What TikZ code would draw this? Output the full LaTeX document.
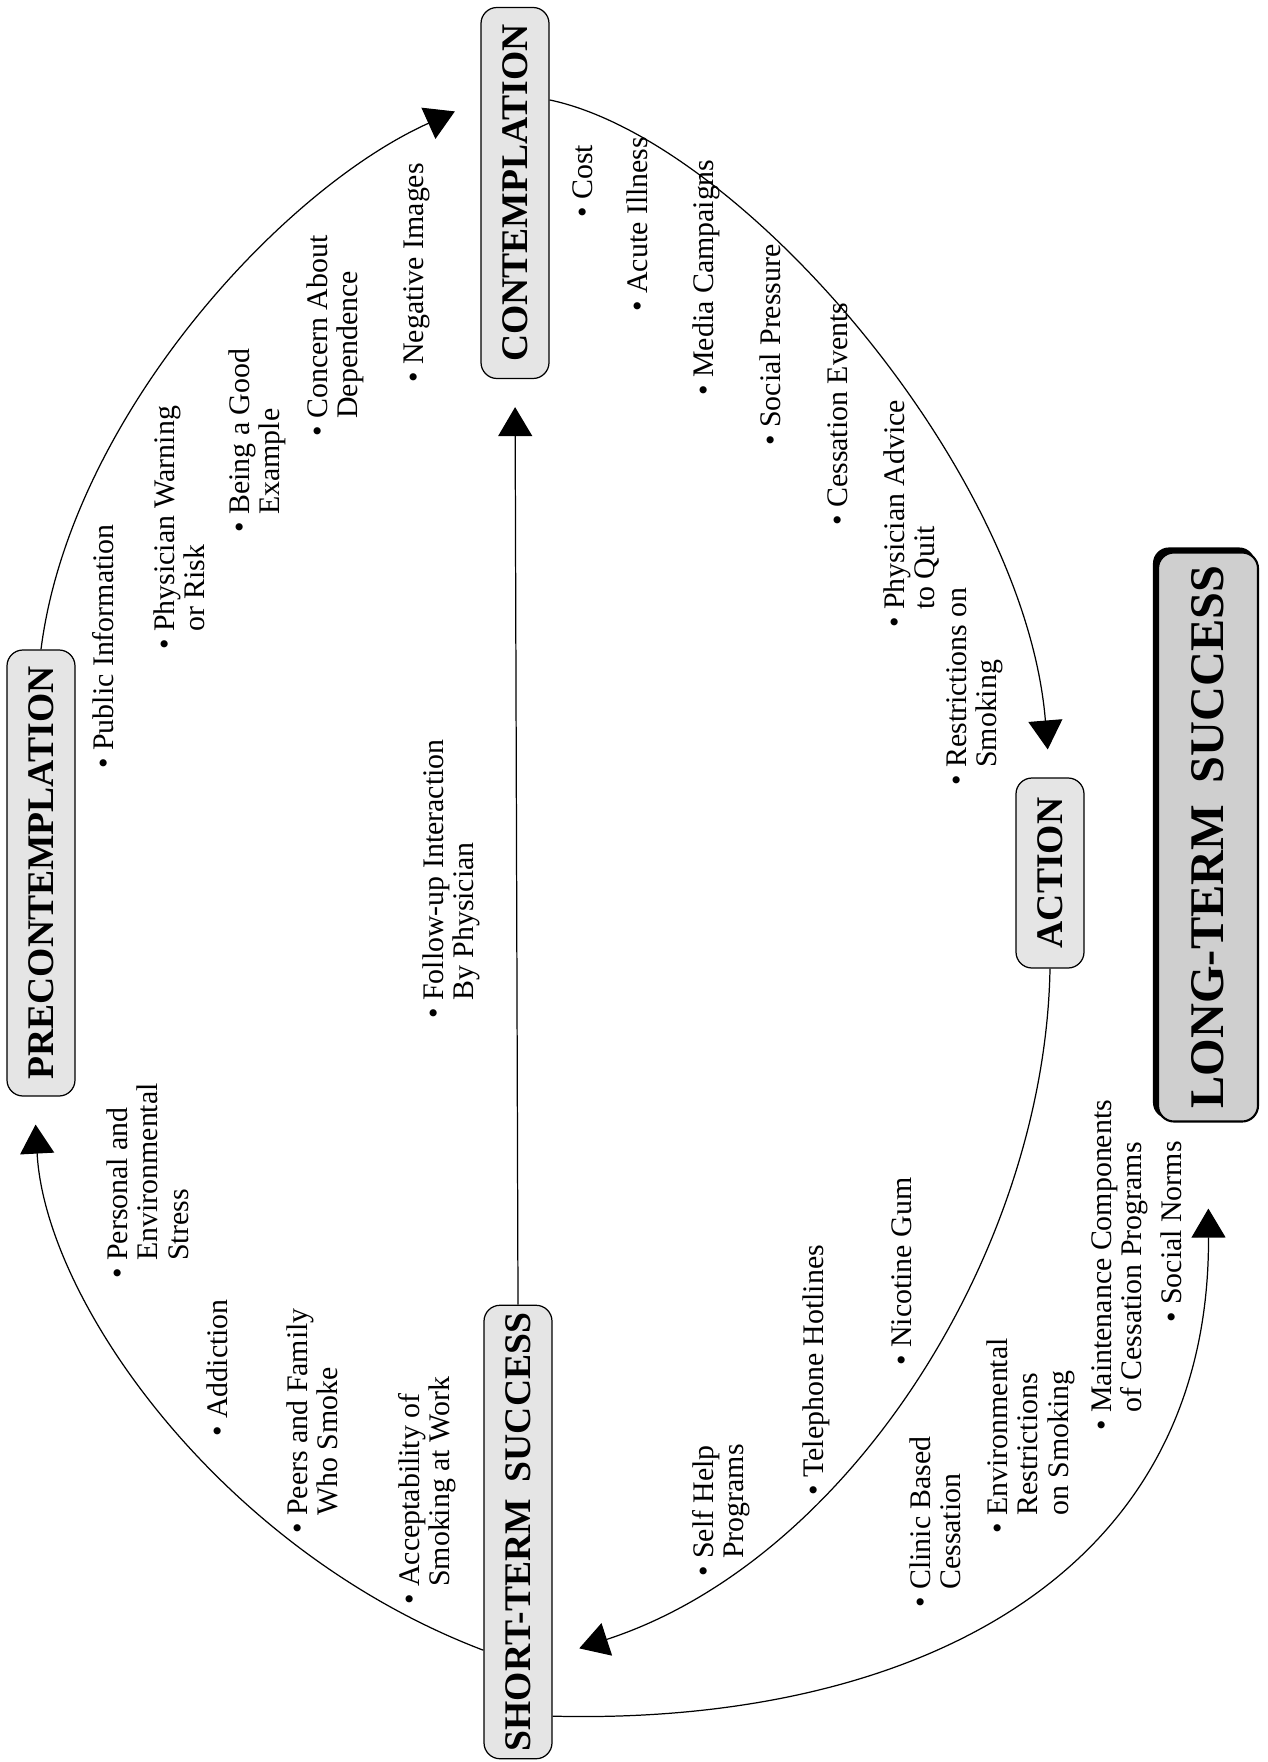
\documentclass[tikz,border=0pt]{standalone}
\usepackage{fontspec}
\setmainfont{Liberation Serif}
\usetikzlibrary{arrows.meta,calc,backgrounds}

\newcommand{\itm}[1]{\textbullet\ \begin{tabular}[t]{@{}l@{}}#1\end{tabular}}

\tikzset{
  stage/.style={rotate=90, draw, line width=0.7pt, rounded corners=3.2mm, fill=gray!20,
    minimum height=13.6mm, inner xsep=1.5mm, font=\fontsize{21.4}{24}\selectfont\bfseries},
  item/.style={rotate=90, anchor=base west, inner sep=0pt, font=\fontsize{17}{17.6}\selectfont},
  arr/.style={line width=0.7pt, -{Triangle[length=5.8mm,width=6.8mm]}, shorten >=5.6mm},
}

\begin{document}
\begin{tikzpicture}[x=0.2mm, y=-0.2mm]
    \useasboundingbox (0,0) rectangle (1268,1762);

    % stages
    \node[stage, minimum width=89.2mm] (pre) at (41,873) {PRECONTEMPLATION};
    \node[stage, minimum width=74.2mm] (con) at (515,193) {CONTEMPLATION};
    \node[stage, minimum width=38mm] (act) at (1050,873) {ACTION};
    \node[stage, minimum width=90.6mm] (sts) at (518,1532) {SHORT-TERM\hspace{0.2em} SUCCESS};
    \node[stage, minimum width=113.8mm, minimum height=20mm, fill=gray!38, line width=1.2pt,
          font=\fontsize{27.5}{30}\selectfont\bfseries] (lts) at (1208,837) {LONG-TERM\hspace{0.2em} SUCCESS};
    \begin{scope}[on background layer]
        \fill[rounded corners=3.2mm] ($(lts.north east)+(-4,-4)$) rectangle ($(lts.south west)+(-4,-4)$);
    \end{scope}

    % precontemplation -> contemplation
    \foreach \px/\py/\txt [count=\i] in {113/769/{Public Information},
        174/650/{Physician Warning\\or Risk}, 249/533/{Being a Good\\Example},
        327/437/{Concern About\\Dependence}, 423/383/{Negative Images}}
        \node[item] (pc\i) at (\px,\py) {\itm{\txt}};

    % contemplation -> action
    \foreach \px/\py/\txt [count=\i] in {592/218/{Cost}, 647/312/{Acute Illness},
        713/396/{Media Campaigns}, 780/446/{Social Pressure}, 847/526/{Cessation Events},
        904/628/{Physician Advice\\to Quit}, 966/786/{Restrictions on\\Smoking}}
        \node[item] (ct\i) at (\px,\py) {\itm{\txt}};

    % action -> short-term
    \foreach \px/\py/\txt [count=\i] in {713/1577/{Self Help\\Programs},
        823/1496/{Telephone Hotlines}, 911/1366/{Nicotine Gum}}
        \node[item] (ac\i) at (\px,\py) {\itm{\txt}};

    % short-term -> long-term
    \foreach \px/\py/\txt [count=\i] in {930/1608/{Clinic Based\\Cessation},
        1007/1534/{Environmental\\Restrictions\\on Smoking},
        1111/1431/{Maintenance Components\\of Cessation Programs}, 1181/1323/{Social Norms}}
        \node[item] (lt\i) at (\px,\py) {\itm{\txt}};

    % short-term -> precontemplation
    \foreach \px/\py/\txt [count=\i] in {127/1279/{Personal and\\Environmental\\Stress},
        227/1437/{Addiction}, 307/1534/{Peers and Family\\Who Smoke},
        419/1605/{Acceptability of\\Smoking at Work}}
        \node[item] (st\i) at (\px,\py) {\itm{\txt}};

    \node[item] (fu) at (443,1019) {\itm{Follow-up Interaction\\By Physician}};

    % cycle
    \draw[arr] (pre.east) .. controls (70,420) and (280,190) .. ($(con.north east)!0.5!(con.north)$);
    \draw[arr] ($(con.south east)!0.5!(con.south)$) .. controls (740,140) and (1025,470) .. (act.east);
    \draw[arr] (act.west) .. controls (1045,1250) and (850,1560) .. ($(sts.south)!0.55!(sts.south west)$);
    \draw[arr] ($(sts.north)!0.52!(sts.north west)$) .. controls (220,1550) and (45,1300) .. ($(pre.west)!0.2!(pre.north west)$);
    \draw[arr, shorten >=17.2mm] ($(sts.south)!0.81!(sts.south west)$) .. controls (900,1725) and (1210,1585) .. (lts.west);
    \draw[arr] (sts.east) -- (con.west);
\end{tikzpicture}
\end{document}
